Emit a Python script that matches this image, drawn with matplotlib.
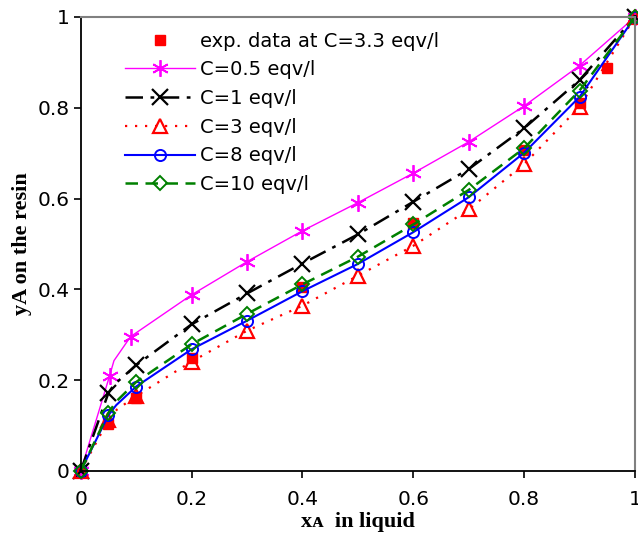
import matplotlib.pyplot as plt

# exp. data at C=3.3 eqv/l
x_exp = [0, 0.05, 0.1, 0.2, 0.4, 0.6, 0.8, 0.9, 0.95, 1.0]
y_exp = [0, 0.104, 0.161, 0.248, 0.406, 0.547, 0.706, 0.81, 0.888, 1.0]

# model curves (second point has no marker)
x_c05 = [0, 0.052, 0.06, 0.09, 0.2, 0.3, 0.4, 0.5, 0.6, 0.7, 0.8, 0.9, 1.0]
y_c05 = [0, 0.209, 0.243, 0.296, 0.388, 0.461, 0.529, 0.591, 0.656, 0.725, 0.804, 0.893, 1.0]

x_c1 = [0, 0.05, 0.06, 0.1, 0.2, 0.3, 0.4, 0.5, 0.6, 0.7, 0.8, 0.9, 1.0]
y_c1 = [0, 0.172, 0.19, 0.233, 0.323, 0.391, 0.457, 0.521, 0.593, 0.665, 0.755, 0.861, 1.0]

x_c3 = [0, 0.05, 0.065, 0.1, 0.2, 0.3, 0.4, 0.5, 0.6, 0.7, 0.8, 0.9, 1.0]
y_c3 = [0, 0.112, 0.135, 0.165, 0.241, 0.309, 0.364, 0.430, 0.496, 0.576, 0.676, 0.802, 1.0]

x_c8 = [0, 0.05, 0.064, 0.1, 0.2, 0.3, 0.4, 0.5, 0.6, 0.7, 0.8, 0.9, 1.0]
y_c8 = [0, 0.123, 0.145, 0.186, 0.268, 0.331, 0.396, 0.456, 0.526, 0.603, 0.701, 0.824, 1.0]

x_c10 = [0, 0.05, 0.064, 0.1, 0.2, 0.3, 0.4, 0.5, 0.6, 0.7, 0.8, 0.9, 1.0]
y_c10 = [0, 0.128, 0.153, 0.196, 0.279, 0.346, 0.411, 0.472, 0.543, 0.619, 0.711, 0.838, 1.0]

labels = ["exp. data at C=3.3 eqv/l", "C=0.5 eqv/l", "C=1 eqv/l",
          "C=3 eqv/l", "C=8 eqv/l", "C=10 eqv/l"]
ticks = [0, 0.2, 0.4, 0.6, 0.8, 1]
tick_labels = ['0', '0.2', '0.4', '0.6', '0.8', '1']

marks = [0, 1, 3, 4, 5, 6, 7, 8, 9, 10, 11, 12]

plt.rcParams['font.family'] = ['DejaVu Sans']

fig = plt.figure(figsize=(6.38, 5.41), dpi=100)
ax = fig.add_axes([0.1265, 0.1294, 0.8688, 0.8392])

ax.plot(x_exp, y_exp, linestyle='none', marker='s', ms=7, color='#ff0000',
        clip_on=False, label=labels[0])
ax.plot(x_c05, y_c05, color='#ff00ff', lw=1.0, marker=(6, 2, 0), ms=12,
        mew=1.3, markevery=marks, clip_on=False, label=labels[1])
ax.plot(x_c1, y_c1, color='black', lw=1.8, dashes=(7, 3, 1.5, 3), marker='x',
        ms=11, mew=1.6, markevery=marks, clip_on=False, label=labels[2])
ax.plot(x_c3, y_c3, color='#ff0000', lw=1.6, dashes=(1, 3.5), marker='^',
        ms=10, mfc='none', mew=1.6, markevery=marks, clip_on=False, label=labels[3])
ax.plot(x_c8, y_c8, color='#0000ff', lw=1.5, marker='o', ms=8, mfc='none',
        mew=1.4, markevery=marks, clip_on=False, label=labels[4])
ax.plot(x_c10, y_c10, color='#008000', lw=1.8, dashes=(5, 3), marker='D',
        ms=7, mfc='none', mew=1.4, markevery=marks, clip_on=False, label=labels[5])

ax.set_xlim(0, 1)
ax.set_ylim(0, 1)
ax.set_xticks(ticks)
ax.set_xticklabels(tick_labels)
ax.set_yticks(ticks)
ax.set_yticklabels(tick_labels)
ax.tick_params(direction='out', length=5, width=1.2, labelsize=14.5)
ax.tick_params(axis='x', pad=9)
ax.tick_params(axis='y', pad=3)

for side in ['top', 'right']:
    ax.spines[side].set_color('#808080')
    ax.spines[side].set_linewidth(1.5)
for side in ['left', 'bottom']:
    ax.spines[side].set_color('black')
    ax.spines[side].set_linewidth(1.3)

ax.set_xlabel('x\u1d00  in liquid', family=['Liberation Serif', 'DejaVu Serif'],
              fontweight='bold', fontsize=16, labelpad=2)
ax.set_ylabel('yA on the resin', family='Liberation Serif', fontweight='bold',
              fontsize=16, labelpad=4)

ax.legend(loc='upper left', bbox_to_anchor=(0.065, 0.985), frameon=False,
          fontsize=14, handlelength=3.6, handletextpad=0.3, labelspacing=0.5,
          borderaxespad=0)

fig.savefig('out.png', dpi=100)
